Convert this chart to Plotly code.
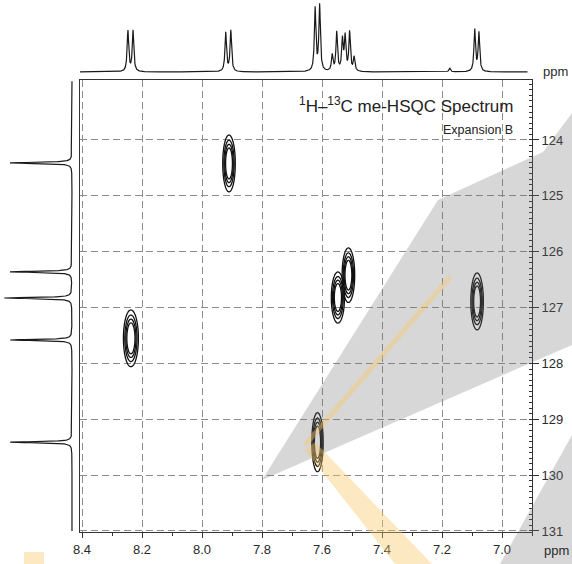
import numpy as np
import plotly.graph_objects as go

# ---------------- data ----------------
# 1H projection on top: peak positions (ppm) and relative intensities
h1_ppm = [8.247, 8.230, 7.921, 7.904, 7.623, 7.608, 7.566, 7.551, 7.532, 7.523,
          7.508, 7.493, 7.174, 7.091, 7.077]
h1_int = [41, 41, 39, 41, 63, 66, 16, 39, 31, 34, 39, 14, 4, 42, 39]

# 13C projection on the left
c13_ppm = [124.41, 126.36, 126.83, 127.58, 129.41]
c13_int = [62, 62, 68, 62, 62]

# HSQC cross peaks: 1H shift, 13C shift, half extents
hsqc_h = [8.237, 7.910, 7.547, 7.512, 7.083, 7.615]
hsqc_c = [127.55, 124.42, 126.82, 126.42, 126.89, 129.41]
hsqc_dh = [0.025, 0.021, 0.022, 0.021, 0.021, 0.019]
hsqc_dc = [0.51, 0.51, 0.46, 0.49, 0.51, 0.53]

x_ticks = [8.4, 8.2, 8.0, 7.8, 7.6, 7.4, 7.2, 7.0]
y_ticks = [124, 125, 126, 127, 128, 129, 130, 131]

# ---------------- geometry ----------------
W, H = 572, 564
X_RANGE = [8.4067, 6.90]
Y_RANGE = [131.018, 122.926]


def px(xp):
    return xp / W


def py(yp):
    return 1 - yp / H


def lorentz(axis, centers, heights, hwhm):
    out = np.zeros_like(axis)
    for c, h in zip(centers, heights):
        out += h * hwhm ** 2 / ((axis - c) ** 2 + hwhm ** 2)
    return out


fig = go.Figure()

# top 1H projection
hx = np.linspace(8.4067, 6.915, 3200)
fig.add_trace(go.Scatter(x=hx, y=lorentz(hx, h1_ppm, h1_int, 0.003), mode="lines",
                         line=dict(color="#1a1a1a", width=1.2), xaxis="x2", yaxis="y2",
                         hoverinfo="skip"))

# left 13C projection
cy = np.linspace(122.95, 131.0, 4500)
fig.add_trace(go.Scatter(x=lorentz(cy, c13_ppm, c13_int, 0.012), y=cy, mode="lines",
                         line=dict(color="#1a1a1a", width=1.2), xaxis="x3", yaxis="y3",
                         hoverinfo="skip"))

# cross peaks as contour plots
for h, c, dh, dc in zip(hsqc_h, hsqc_c, hsqc_dh, hsqc_dc):
    xs = np.linspace(h - 2.3 * dh, h + 2.3 * dh, 47)
    ys = np.linspace(c - 2.3 * dc, c + 2.3 * dc, 93)
    XX, YY = np.meshgrid(xs, ys)
    sx, sy = dh / 1.8, dc / 1.8
    z = np.exp(-0.5 * ((XX - h) / sx) ** 2 - 0.5 * ((YY - c) / sy) ** 2)
    fig.add_trace(go.Contour(x=xs, y=ys, z=z,
                             contours=dict(start=0.2, end=0.62, size=0.14, coloring="lines"),
                             colorscale=[[0, "#111111"], [1, "#111111"]], showscale=False,
                             line=dict(width=1.3), hoverinfo="skip", xaxis="x", yaxis="y"))

font = dict(family="Liberation Sans, Arial, sans-serif", size=13, color="#2a2a2a")

fig.update_layout(
    width=W, height=H, margin=dict(l=0, r=0, t=0, b=0, autoexpand=False),
    paper_bgcolor="white", plot_bgcolor="white", showlegend=False, font=font,
    xaxis=dict(domain=[px(80), px(532)], range=X_RANGE, anchor="y", automargin=False,
               tickmode="array", tickvals=x_ticks, ticktext=[f"{v:.1f}" for v in x_ticks],
               ticks="outside", ticklen=5, tickcolor="#333", tickwidth=1,
               showline=True, linecolor="#333", linewidth=1, mirror=True,
               showgrid=True, gridcolor="#8c8c8c", griddash="7px,4px", gridwidth=1,
               zeroline=False, tickfont=font,
               minor=dict(dtick=0.1, tick0=7.0, ticks="outside", ticklen=3,
                          tickcolor="#333", showgrid=False)),
    yaxis=dict(domain=[py(532), py(80)], range=Y_RANGE, anchor="x", side="right",
               automargin=False,
               tickmode="array", tickvals=y_ticks, ticktext=[str(v) for v in y_ticks],
               ticks="outside", ticklen=6, tickcolor="#333", tickwidth=1,
               showline=True, linecolor="#333", linewidth=1, mirror=True,
               showgrid=True, gridcolor="#8c8c8c", griddash="7px,4px", gridwidth=1,
               zeroline=False, tickfont=font,
               minor=dict(dtick=0.1, tick0=124, ticks="inside", ticklen=3,
                          tickcolor="#333", showgrid=False)),
    xaxis2=dict(domain=[px(80), px(532)], matches="x", anchor="y2", visible=False,
                automargin=False),
    yaxis2=dict(domain=[py(80), 1.0], range=[-8, 72], anchor="x2", visible=False,
                automargin=False),
    xaxis3=dict(domain=[0, px(80)], range=[72, -8], anchor="y3", visible=False,
                automargin=False),
    yaxis3=dict(domain=[py(532), py(80)], matches="y", anchor="x3", visible=False,
                automargin=False),
)

fig.add_annotation(x=px(515), y=py(105), xref="paper", yref="paper", xanchor="right",
                   yanchor="middle", showarrow=False,
                   text="<sup>1</sup>H–<sup>13</sup>C me-HSQC Spectrum",
                   font=dict(family=font["family"], size=17, color="#222"))
fig.add_annotation(x=px(515), y=py(130), xref="paper", yref="paper", xanchor="right",
                   yanchor="middle", showarrow=False, text="Expansion B",
                   font=dict(family=font["family"], size=12.5, color="#222"))
fig.add_annotation(x=px(556), y=py(550), xref="paper", yref="paper", xanchor="center",
                   yanchor="middle", showarrow=False, text="ppm", font=font)
fig.add_annotation(x=px(541), y=py(72), xref="paper", yref="paper", xanchor="left",
                   yanchor="middle", showarrow=False, text="ppm", font=font)


# watermark-like background overlays of the scanned reference
def poly(points):
    s = "M " + " L ".join(f"{px(a):.4f},{py(b):.4f}" for a, b in points) + " Z"
    return s


gray = "rgba(110,110,110,0.28)"
yellow = "rgba(250,200,100,0.40)"
fig.add_shape(type="path", xref="paper", yref="paper", layer="above", line=dict(width=0),
              fillcolor=gray,
              path=poly([(262, 480), (438, 200), (543, 152), (572, 113), (572, 345)]))
fig.add_shape(type="path", xref="paper", yref="paper", layer="above", line=dict(width=0),
              fillcolor=gray, path=poly([(572, 435), (572, 564), (500, 564)]))
fig.add_shape(type="path", xref="paper", yref="paper", layer="above", line=dict(width=0),
              fillcolor=yellow, path=poly([(305, 450), (315, 442), (432, 564), (395, 564)]))
fig.add_shape(type="line", xref="paper", yref="paper", layer="above",
              x0=px(305), y0=py(445), x1=px(450), y1=py(277),
              line=dict(color=yellow, width=5))
fig.add_shape(type="rect", xref="paper", yref="paper", layer="above", line=dict(width=0),
              fillcolor=yellow, x0=px(24), x1=px(44), y0=py(564), y1=py(552))

fig.write_html("out.html",
               config={"displayModeBar": False},
               post_script="document.body.style.margin='0';"
                           "document.body.style.padding='0';"
                           "document.documentElement.style.overflow='hidden';")
